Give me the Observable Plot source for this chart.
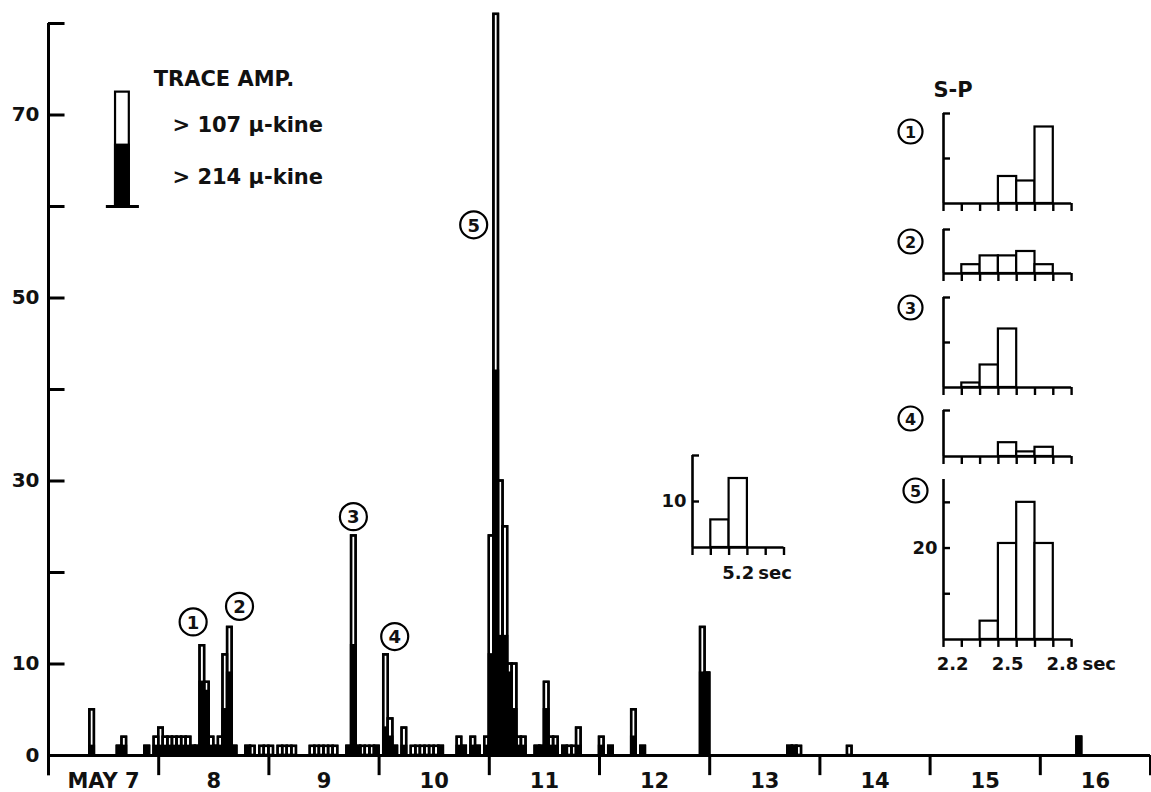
<!DOCTYPE html>
<html><head><meta charset="utf-8">
<script src="https://cdn.jsdelivr.net/npm/d3@7"></script>
<script src="https://cdn.jsdelivr.net/npm/@observablehq/plot@0.6"></script>
<style>
body{margin:0;background:#fff;}
#wrap{position:relative;width:1151px;height:792px;overflow:hidden;background:#fff;}
#wrap svg{position:absolute;}
</style></head><body><div id="wrap"></div>
<script>
// ---- main histogram: hourly counts from 00h May 7 ----
const hours = [9,15,16,21,23,24,25,26,27,28,29,30,31,32,33,34,35,36,37,38,39,40,43,44,46,47,48,50,51,52,53,
  57,58,59,60,61,62,65,66,67,68,69,70,71,73,74,75,77,79,80,81,82,83,84,85,89,90,92,93,95,
  96,97,98,99,100,101,102,103,106,107,108,109,110,112,113,114,115,120,122,127,129,142,143,161,162,163,174,224];
const totalCounts = [5,1,2,1,2,3,2,2,2,2,2,2,1,1,12,8,2,1,2,11,14,1,1,1,1,1,1,1,1,1,1,
  1,1,1,1,1,1,1,24,1,1,1,1,1,11,4,1,3,1,1,1,1,1,1,1,2,1,2,1,2,
  24,81,30,25,10,10,2,2,1,1,8,2,2,1,1,1,3,2,1,5,1,14,9,1,1,1,1,2];
const blackCounts = [1,1,1,1,1,1,1,1,1,1,1,1,1,1,8,7,1,1,1,5,9,1,1,0,0,0,0,0,0,0,0,
  0,0,0,0,0,0,1,12,1,0,0,0,1,3,2,1,1,0,0,0,0,0,0,1,1,1,1,1,1,
  11,42,13,13,9,5,1,1,1,1,5,1,1,1,0,0,1,1,1,2,1,9,9,1,1,0,0,2];
const dayTicks = [0,24,48,72,96,120,144,168,192,216,240];
const dayLabels = ["MAY 7","8","9","10","11","12","13","14","15","16"];
const yTicks = [0,10,20,30,40,50,60,70,80];
const yTickLabels = [0,10,30,50,70];
// circled event numbers (hour, count level)
const eventNames = ["1","2","3","4","5"];
const eventHour = [31.5,41.6,66.4,75.4,92.6];
const eventLevel = [14.6,16.3,26.1,13.0,58.0];
// legend
const legendTitle = "TRACE AMP.";
const legendItems = ["> 107 μ-kine","> 214 μ-kine"];
const legendSample = {x1:14.6, x2:17.6, base:60, white:72.5, black:66.7};

// ---- S-P insets ----
const spBins = [2.2,2.3,2.4,2.5,2.6,2.7,2.8];
const sp1 = [0,0,0,6,5,17,0];
const sp2 = [0,2,4,4,5,2,0];
const sp3 = [0,1,5,13,0,0,0];
const sp4 = [0,0,0,3,1,2,0];
const sp5 = [0,0,4,21,30,21,0];
const spXLabels = [2.2,2.5,2.8];
const smallBins = [5.0,5.1,5.2,5.3,5.4];
const smallCounts = [0,6,15,0,0];
const smallXLabels = [5.2];

const FONT = "DejaVu Sans";
const wrap = document.getElementById("wrap");

const bars = hours.map((h,i)=>({h, total: totalCounts[i], black: blackCounts[i]}));
const circled = eventNames.map((n,i)=>({n, x: eventHour[i], y: eventLevel[i]}));

const main = Plot.plot({
  width: 1151, height: 792,
  marginLeft: 48, marginRight: 1, marginTop: 23, marginBottom: 37,
  x: {domain: [0,240], axis: null},
  y: {domain: [0,80], axis: null},
  style: {fontFamily: FONT, background: "white"},
  marks: [
    Plot.rect(bars, {x1: d=>d.h, x2: d=>d.h+1, y1: 0, y2: d=>d.total, fill: "white", stroke: "black", strokeWidth: 2.4}),
    Plot.rect(bars, {x1: d=>d.h, x2: d=>d.h+1, y1: 0, y2: d=>d.total, fill: "none", stroke: "black", strokeWidth: 2.4}),
    Plot.rect(bars.filter(d=>d.black>0), {x1: d=>d.h, x2: d=>d.h+1, y1: 0, y2: d=>d.black, fill: "black", stroke: "black", strokeWidth: 2.4}),
    Plot.ruleY([0], {x1: 0, x2: 240, strokeWidth: 3}),
    Plot.ruleX([0], {y1: -2.2, y2: 80, strokeWidth: 3}),
    Plot.ruleX(dayTicks, {y1: -2.2, y2: 0, strokeWidth: 3}),
    Plot.ruleY(yTicks, {x1: 0, x2: 3.6, strokeWidth: 3}),
    Plot.text(yTickLabels, {x: 0, y: d=>d, text: d=>String(d), dx: -9, textAnchor: "end", fontSize: 20, fontWeight: "bold", fill: "#111"}),
    Plot.text(dayLabels, {x: (d,i)=>i*24+12, y: 0, text: d=>d, dy: 26, fontSize: 21, fontWeight: "bold", fill: "#111"}),
    Plot.dot(circled, {x: "x", y: "y", r: 13.5, fill: "white", stroke: "black", strokeWidth: 2.2}),
    Plot.text(circled, {x: "x", y: "y", text: "n", fontSize: 18, fontWeight: "bold", fill: "#111", dy: 1}),
    Plot.rect([legendSample], {x1: "x1", x2: "x2", y1: "base", y2: "white", fill: "white", stroke: "black", strokeWidth: 2.2}),
    Plot.rect([legendSample], {x1: "x1", x2: "x2", y1: "base", y2: "black", fill: "black", stroke: "black", strokeWidth: 2.2}),
    Plot.ruleY([legendSample.base], {x1: 12.6, x2: 19.8, strokeWidth: 3}),
    Plot.text([legendTitle], {x: 22.9, y: 73.2, text: d=>d, textAnchor: "start", lineAnchor: "bottom", fontSize: 21, fontWeight: "bold", fill: "#111"}),
    Plot.text(legendItems, {x: 27.0, y: (d,i)=> i===0 ? 68.1 : 62.5, text: d=>d, textAnchor: "start", lineAnchor: "bottom", fontSize: 21, fontWeight: "bold", fill: "#111"})
  ]
});
main.style.left = "0px"; main.style.top = "0px";
wrap.appendChild(main);

function makeInset(o) {
  const mL = 52, mR = 60, mT = o.mT ?? 16, mB = o.mB ?? 14;
  const binPx = 18.3;
  const w = o.bins.length * binPx;
  const h = o.yMax * o.ppu;
  const half = 0.05;
  const lo = o.bins[0]-half, hi = o.bins[o.bins.length-1]+half;
  const edges = d3.range(o.bins.length+1).map(i => lo + i*2*half);
  const rows = o.bins.map((b,i)=>({b, c:o.counts[i]})).filter(d=>d.c>0);
  const tickLen = 7*(hi-lo)/w;
  const marks = [
    Plot.rect(rows, {x1: d=>d.b-half, x2: d=>d.b+half, y1: 0, y2: d=>d.c, fill: "white", stroke: "black", strokeWidth: 2.2}),
    Plot.ruleY([0], {x1: lo, x2: hi, strokeWidth: 2.6}),
    Plot.ruleX([lo], {y1: 0, y2: o.yMax, strokeWidth: 2.6}),
    Plot.ruleX(edges, {y1: -8/o.ppu, y2: 0, strokeWidth: 2.4}),
    Plot.ruleY(o.yTicks, {x1: lo, x2: lo+tickLen, strokeWidth: 2.4})
  ];
  if (o.yLabels) marks.push(Plot.text(o.yLabels, {x: lo, y: d=>d, text: d=>String(d), dx: -6, textAnchor: "end", fontSize: 18, fontWeight: "bold", fill: "#111"}));
  if (o.xLabels) {
    marks.push(Plot.text(o.xLabels, {x: d=>d, y: 0, text: d=>d.toFixed(1), dy: 31, lineAnchor: "bottom", fontSize: 18, fontWeight: "bold", fill: "#111"}));
    marks.push(Plot.text(["sec"], {x: o.xLabels[o.xLabels.length-1], y: 0, text: d=>d, dx: 20, dy: 31, textAnchor: "start", lineAnchor: "bottom", fontSize: 18, fontWeight: "bold", fill: "#111"}));
  }
  if (o.name) {
    marks.push(Plot.dot([o.name], {frameAnchor: "top-left", dx: o.cdx ?? -33, dy: o.cdy, r: 12, fill: "white", stroke: "black", strokeWidth: 2.2}));
    marks.push(Plot.text([o.name], {frameAnchor: "top-left", dx: o.cdx ?? -33, dy: o.cdy + 1, text: d=>d, textAnchor: "middle", lineAnchor: "middle", fontSize: 16, fontWeight: "bold", fill: "#111"}));
  }
  if (o.title) marks.push(Plot.text([o.title], {frameAnchor: "top-left", dx: -10, dy: -16, text: d=>d, textAnchor: "start", lineAnchor: "bottom", fontSize: 21, fontWeight: "bold", fill: "#111"}));
  const svg = Plot.plot({
    width: mL + w + mR, height: mT + h + mB,
    marginLeft: mL, marginRight: mR, marginTop: mT, marginBottom: mB,
    x: {domain: [lo, hi], axis: null},
    y: {domain: [0, o.yMax], axis: null},
    style: {fontFamily: FONT, background: "transparent", overflow: "visible"},
    marks
  });
  svg.style.left = (o.x0 - mL) + "px";
  svg.style.top = (o.base - h - mT) + "px";
  wrap.appendChild(svg);
}

makeInset({bins: spBins, counts: sp1, yMax: 20, ppu: 4.5, yTicks: [10,20], x0: 943, base: 203, name: "1", cdy: 18, title: "S-P", mT: 40});
makeInset({bins: spBins, counts: sp2, yMax: 10, ppu: 4.4, yTicks: [10], x0: 943, base: 273, name: "2", cdy: 12});
makeInset({bins: spBins, counts: sp3, yMax: 20, ppu: 4.5, yTicks: [10,20], x0: 943, base: 387, name: "3", cdy: 10});
makeInset({bins: spBins, counts: sp4, yMax: 10, ppu: 4.6, yTicks: [10], x0: 943, base: 456, name: "4", cdy: 8});
makeInset({bins: spBins, counts: sp5, yMax: 35, ppu: 4.57, yTicks: [10,20,30], yLabels: [20], x0: 943, base: 639, name: "5", cdy: 11, cdx: -28, xLabels: spXLabels, mB: 40});
makeInset({bins: smallBins, counts: smallCounts, yMax: 20, ppu: 4.6, yTicks: [10,20], yLabels: [10], x0: 692, base: 547, xLabels: smallXLabels, mB: 40});
</script>
</body></html>
